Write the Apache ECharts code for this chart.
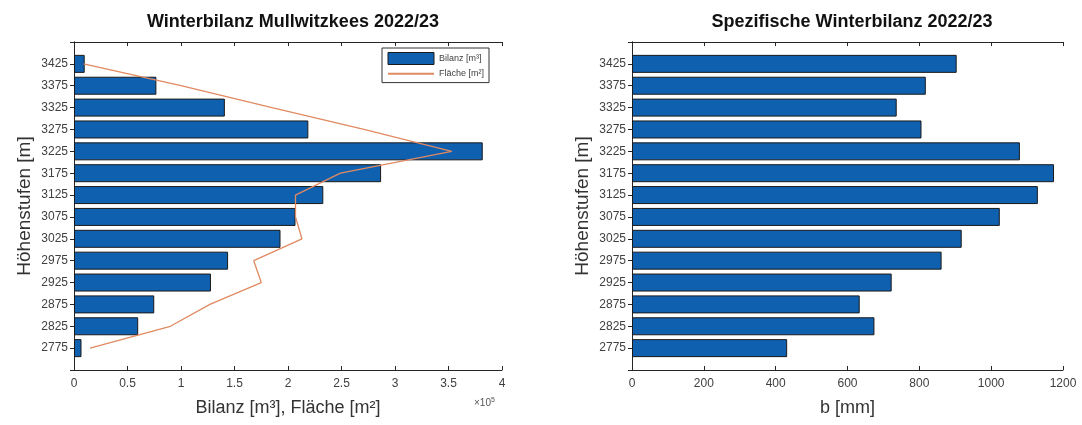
<!DOCTYPE html>
<html>
<head>
<meta charset="utf-8">
<script src="https://cdn.jsdelivr.net/npm/echarts@6/dist/echarts.min.js"></script>
<style>
  html, body { margin: 0; padding: 0; background: #fff; }
  #chart { width: 1082px; height: 425px; }
</style>
</head>
<body>
<div id="chart"></div>
<script>
// Höhenstufen (unten nach oben)
var elevations = ["2775", "2825", "2875", "2925", "2975", "3025", "3075", "3125", "3175", "3225", "3275", "3325", "3375", "3425"];
// Winterbilanz je Höhenstufe [m³]
var bilanz = [7000, 60000, 75000, 128000, 144000, 193000, 207000, 233000, 287000, 382000, 219000, 141000, 77000, 10000];
// Fläche je Höhenstufe [m²]
var flaeche = [15000, 90000, 127000, 175000, 168000, 213000, 207000, 207000, 249000, 353000, 271000, 185000, 100000, 9000];
// spezifische Winterbilanz [mm]
var spezBilanz = [432, 675, 634, 723, 862, 918, 1024, 1130, 1175, 1080, 806, 737, 818, 904];

var textColor = "#404040";
var axisColor = "#262626";
var barColor = "#1060b0";
var lineColor = "#e08a62";

// Achse mit je einer leeren Stufe unten und oben
var cats = ["2725"].concat(elevations).concat(["3475"]);
function pad(arr) {
  return [null].concat(arr).concat([null]);
}

function catAxis(gridIndex, position, showLabel) {
  return {
    type: "category",
    gridIndex: gridIndex,
    position: position,
    data: cats,
    boundaryGap: false,
    axisLine: { show: true, lineStyle: { color: axisColor, width: 1 } },
    axisTick: { show: true, inside: true, length: 4, alignWithLabel: true, lineStyle: { color: axisColor } },
    axisLabel: {
      show: showLabel,
      interval: 0,
      color: textColor,
      fontSize: 12,
      fontFamily: "Liberation Sans",
      margin: 6,
      formatter: function (v) {
        return v === "2725" || v === "3475" ? "" : v;
      }
    },
    splitLine: { show: false },
    name: showLabel ? "Höhenstufen [m]" : "",
    nameLocation: "middle",
    nameGap: 40,
    nameTextStyle: { fontSize: 19, color: "#333", fontFamily: "Liberation Sans" }
  };
}

function valAxis(gridIndex, position, max, interval, showLabel, name, formatter) {
  return {
    type: "value",
    gridIndex: gridIndex,
    position: position,
    min: 0,
    max: max,
    interval: interval,
    axisLine: { show: true, onZero: false, lineStyle: { color: axisColor, width: 1 } },
    axisTick: { show: true, inside: true, length: 4, lineStyle: { color: axisColor } },
    axisLabel: {
      show: showLabel,
      color: textColor,
      fontSize: 12,
      fontFamily: "Liberation Sans",
      margin: 8,
      formatter: formatter
    },
    splitLine: { show: false },
    name: showLabel ? name : "",
    nameLocation: "middle",
    nameGap: 29,
    nameTextStyle: { fontSize: 18, color: "#333", fontFamily: "Liberation Sans" }
  };
}

var chart = echarts.init(document.getElementById("chart"));

var option = {
  backgroundColor: "#fff",
  animation: false,
  title: [
    {
      text: "Winterbilanz Mullwitzkees 2022/23",
      left: 288,
      textAlign: "center",
      top: 8,
      textStyle: { fontSize: 18, fontWeight: "bold", color: "#111", fontFamily: "Liberation Sans" }
    },
    {
      text: "Spezifische Winterbilanz 2022/23",
      left: 847,
      textAlign: "center",
      top: 8,
      textStyle: { fontSize: 18, fontWeight: "bold", color: "#111", fontFamily: "Liberation Sans" }
    }
  ],
  legend: {
    orient: "vertical",
    left: 382,
    top: 48,
    itemWidth: 46,
    itemHeight: 12,
    itemGap: 4,
    padding: [4, 5, 4, 5],
    borderColor: "#333",
    borderWidth: 1,
    backgroundColor: "#fff",
    textStyle: { fontSize: 9, color: textColor, fontFamily: "Liberation Sans" },
    data: [
      { name: "Bilanz [m³]", icon: "rect", itemStyle: { borderWidth: 1, borderColor: "#1a1a1a" } },
      { name: "Fläche [m²]", itemStyle: { color: "transparent", borderWidth: 0, opacity: 0 } }
    ]
  },
  grid: [
    { left: 74, top: 42, width: 428, height: 328, containLabel: false },
    { left: 632, top: 42, width: 431, height: 328, containLabel: false }
  ],
  xAxis: [
    valAxis(0, "bottom", 400000, 50000, true, "Bilanz [m³], Fläche [m²]", function (v) { return String(v / 100000); }),
    valAxis(0, "top", 400000, 50000, false, "", null),
    valAxis(1, "bottom", 1200, 200, true, "b [mm]", function (v) { return String(v); }),
    valAxis(1, "top", 1200, 200, false, "", null)
  ],
  yAxis: [
    catAxis(0, "left", true),
    catAxis(0, "right", false),
    catAxis(1, "left", true),
    catAxis(1, "right", false)
  ],
  graphic: [
    {
      type: "text",
      left: 474,
      top: 397,
      style: {
        text: "×10{s|5}",
        fill: "#555",
        fontSize: 10,
        fontFamily: "Liberation Sans",
        rich: { s: { fontSize: 7, verticalAlign: "top", padding: [0, 0, 6, 0] } }
      }
    }
  ],
  series: [
    {
      name: "Bilanz [m³]",
      type: "bar",
      xAxisIndex: 0,
      yAxisIndex: 0,
      data: pad(bilanz),
      barWidth: 18,
      itemStyle: { color: barColor, borderColor: "#1a1a1a", borderWidth: 1 }
    },
    {
      name: "Fläche [m²]",
      type: "line",
      xAxisIndex: 0,
      yAxisIndex: 0,
      data: pad(flaeche),
      symbol: "none",
      lineStyle: { color: lineColor, width: 1.3 },
      itemStyle: { color: lineColor },
      z: 5
    },
    {
      name: "b",
      type: "bar",
      xAxisIndex: 2,
      yAxisIndex: 2,
      data: pad(spezBilanz),
      barWidth: 18,
      itemStyle: { color: barColor, borderColor: "#1a1a1a", borderWidth: 1 }
    }
  ]
};

chart.setOption(option);
</script>
</body>
</html>
